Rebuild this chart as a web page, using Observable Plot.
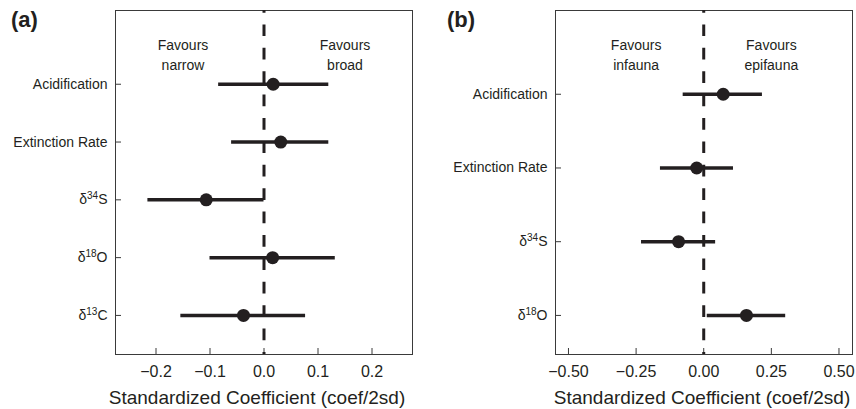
<!DOCTYPE html>
<html><head><meta charset="utf-8">
<script src="https://cdn.jsdelivr.net/npm/d3@7"></script>
<script src="https://cdn.jsdelivr.net/npm/@observablehq/plot@0.6"></script>
<style>
body{margin:0;background:#fff;font-family:"Liberation Sans",Arial,Helvetica,sans-serif;}
#wrap{position:relative;width:856px;height:409px;overflow:hidden;background:#fff;}
.panel{position:absolute;top:0;}
.tag{position:absolute;top:9px;font-weight:bold;font-size:22px;line-height:21px;color:#231f20;}
</style></head>
<body><div id="wrap"></div>
<script>
// ---- Panel (a): range size (narrow vs broad)
const categoriesA = ["Acidification", "Extinction Rate", "δ34S", "δ18O", "δ13C"];
const estimateA = [0.017, 0.031, -0.107, 0.016, -0.038];
const lowerA = [-0.084, -0.060, -0.215, -0.100, -0.154];
const upperA = [0.120, 0.120, 0.000, 0.132, 0.077];
const xTicksA = [-0.2, -0.1, 0.0, 0.1, 0.2];
const annotA = ["Favours\nnarrow", "Favours\nbroad"];

// ---- Panel (b): life habit (infauna vs epifauna)
const categoriesB = ["Acidification", "Extinction Rate", "δ34S", "δ18O"];
const estimateB = [0.072, -0.026, -0.093, 0.158];
const lowerB = [-0.076, -0.160, -0.230, 0.013];
const upperB = [0.217, 0.110, 0.044, 0.303];
const xTicksB = [-0.50, -0.25, 0.00, 0.25, 0.50];
const annotB = ["Favours\ninfauna", "Favours\nepifauna"];

const axisTitle = "Standardized Coefficient (coef/2sd)";

const INK = "#231f20";
const FRAME = "#3a3a3a";
const FONT = `"Liberation Sans", Arial, Helvetica, sans-serif`;

function makePanel({cats, est, lo, hi, xDomain, yDomain, xTicks, fmt, annot, annotX,
                    width, height, marginLeft, marginRight, marginTop, marginBottom, titleDx}) {
  const n = cats.length;
  const rows = cats.map((c, i) => ({cat: c, pos: n - i, est: est[i], lo: lo[i], hi: hi[i]}));
  const yTicks = rows.map(d => d.pos);
  const innerH = height - marginTop - marginBottom;
  const innerW = width - marginLeft - marginRight;
  const ann = annot.map((t, i) => ({t, x: annotX[i]}));
  const svg = Plot.plot({
    width, height, marginLeft, marginRight, marginTop, marginBottom,
    style: {fontFamily: FONT, fontSize: "14px", color: INK, background: "#fff"},
    x: {domain: xDomain},
    y: {domain: yDomain},
    marks: [
      Plot.frame({stroke: FRAME, strokeWidth: 1}),
      Plot.tickX(xTicks, {x: d => d, insetTop: innerH - 6, stroke: FRAME, strokeWidth: 1}),
      Plot.tickY(yTicks, {y: d => d, insetRight: innerW - 6, stroke: FRAME, strokeWidth: 1}),
      Plot.axisX(xTicks, {tickSize: 0, tickPadding: 11, tickFormat: fmt, fontSize: 16, fill: INK, label: null}),
      Plot.axisY(yTicks, {tickSize: 0, tickPadding: 8, tickFormat: v => cats[n - v], fontSize: 14, fill: INK, label: null}),
      Plot.ruleX([0], {stroke: INK, strokeWidth: 3, strokeDasharray: "11.7,11.7", strokeDashoffset: 9}),
      Plot.ruleY(rows, {y: "pos", x1: "lo", x2: "hi", stroke: INK, strokeWidth: 3.5}),
      Plot.dot(rows, {x: "est", y: "pos", r: 6.5, fill: INK, stroke: null}),
      Plot.text(ann, {x: "x", text: "t", frameAnchor: "top", dy: 25, lineAnchor: "top",
                      lineHeight: 1.43, fontSize: 14, fill: INK}),
      Plot.text([axisTitle], {frameAnchor: "bottom", dy: 36, dx: titleDx, lineAnchor: "top",
                              fontSize: 19, fill: INK})
    ]
  });
  // superscript isotope numbers in y tick labels
  svg.querySelectorAll('[aria-label="y-axis tick label"] text').forEach(t => {
    const m = /^δ(\d+)(.+)$/.exec(t.textContent);
    if (!m) return;
    t.textContent = "";
    const ns = "http://www.w3.org/2000/svg";
    const a = document.createElementNS(ns, "tspan"); a.textContent = "δ";
    const b = document.createElementNS(ns, "tspan"); b.textContent = m[1];
    b.setAttribute("font-size", "10"); b.setAttribute("dy", "-5");
    const c = document.createElementNS(ns, "tspan"); c.textContent = m[2];
    c.setAttribute("dy", "5");
    t.append(a, b, c);
  });
  return svg;
}

const wrap = document.getElementById("wrap");

const pa = document.createElement("div");
pa.className = "panel"; pa.style.left = "0px";
pa.append(makePanel({
  cats: categoriesA, est: estimateA, lo: lowerA, hi: upperA,
  xDomain: [-0.275, 0.275], yDomain: [0.324, 6.276], xTicks: xTicksA,
  fmt: d3.format(".1f"), annot: annotA, annotX: [-0.15, 0.15],
  width: 430, height: 409, marginLeft: 115, marginRight: 18, marginTop: 10, marginBottom: 55, titleDx: -7
}));
wrap.append(pa);

const pb = document.createElement("div");
pb.className = "panel"; pb.style.left = "430px";
pb.append(makePanel({
  cats: categoriesB, est: estimateB, lo: lowerB, hi: upperB,
  xDomain: [-0.548, 0.55], yDomain: [0.47, 5.136], xTicks: xTicksB,
  fmt: d3.format(".2f"), annot: annotB, annotX: [-0.25, 0.25],
  width: 426, height: 409, marginLeft: 125, marginRight: 4, marginTop: 10, marginBottom: 55, titleDx: -2
}));
wrap.append(pb);

const ta = document.createElement("div"); ta.className = "tag"; ta.style.left = "11px"; ta.textContent = "(a)";
const tb = document.createElement("div"); tb.className = "tag"; tb.style.left = "447px"; tb.textContent = "(b)";
wrap.append(ta, tb);
</script>
</body></html>
